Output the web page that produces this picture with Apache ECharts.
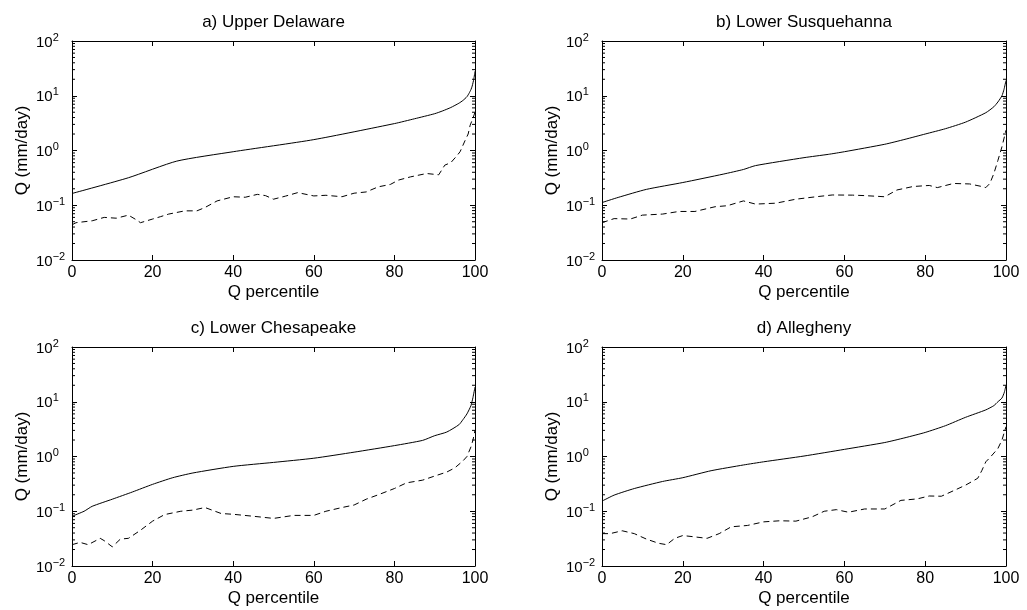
<!DOCTYPE html>
<html>
<head>
<meta charset="utf-8">
<script src="https://cdn.jsdelivr.net/npm/echarts@6/dist/echarts.min.js"></script>
<style>
  html, body { margin: 0; padding: 0; background: #fff; }
  #chart { width: 1027px; height: 610px; }
</style>
</head>
<body>
<div id="chart"></div>
<script>
const titles = ['a) Upper Delaware', 'b) Lower Susquehanna', 'c) Lower Chesapeake', 'd) Allegheny'];
const xTicks = [0, 20, 40, 60, 80, 100];
const yDecades = [0.01, 0.1, 1, 10, 100];

// a) Upper Delaware
const aSolidX = [0, 14, 26, 40, 60, 80, 85, 90, 92, 94, 96, 97, 98, 98.5, 99, 99.3, 99.7, 100];
const aSolidQ = [0.164, 0.318, 0.64, 0.95, 1.58, 3.1, 3.8, 4.7, 5.3, 6.1, 7.3, 8.2, 9.6, 11, 13, 15, 20, 28];
const aDashX = [0, 1, 5, 8, 11, 14, 16, 17, 20, 22, 24, 28, 31, 33, 36, 40, 43, 46, 48, 50, 53, 56, 60, 63, 67, 70, 73, 76, 79, 81, 84, 88, 91, 92.5, 94, 95.5, 96.3, 97.5, 98.3, 98.8, 99.5, 100];
const aDashQ = [0.044, 0.048, 0.052, 0.060, 0.058, 0.066, 0.054, 0.048, 0.056, 0.062, 0.069, 0.079, 0.079, 0.091, 0.12, 0.143, 0.14, 0.158, 0.15, 0.129, 0.147, 0.17, 0.148, 0.152, 0.143, 0.166, 0.175, 0.217, 0.24, 0.288, 0.33, 0.38, 0.36, 0.54, 0.60, 0.80, 0.95, 1.5, 2.0, 2.9, 3.9, 5.0];

// b) Lower Susquehanna
const bSolidX = [0, 4, 11, 20, 30, 35, 38, 50, 56, 60, 70, 75, 80, 85, 90, 95, 97, 98, 99, 99.5, 100];
const bSolidQ = [0.112, 0.139, 0.195, 0.26, 0.37, 0.45, 0.53, 0.74, 0.85, 0.95, 1.3, 1.6, 2.0, 2.5, 3.3, 4.9, 6.3, 7.7, 10, 13, 19];
const bDashX = [0, 3, 7, 10, 15, 19, 23, 28, 31, 35, 38, 43, 48, 53, 57, 62, 65, 70, 73, 77, 81, 83, 87, 91, 94, 95, 96, 97, 98, 99, 100];
const bDashQ = [0.048, 0.057, 0.056, 0.066, 0.069, 0.077, 0.077, 0.094, 0.098, 0.12, 0.105, 0.109, 0.129, 0.143, 0.154, 0.153, 0.150, 0.143, 0.19, 0.22, 0.23, 0.21, 0.25, 0.245, 0.22, 0.21, 0.25, 0.38, 0.66, 1.17, 2.35];

// c) Lower Chesapeake
const cSolidX = [0, 3, 5, 10, 15, 20, 25, 30, 40, 50, 60, 70, 80, 87, 90, 93, 96, 97, 98, 99, 99.5, 100];
const cSolidQ = [0.081, 0.1, 0.123, 0.166, 0.225, 0.31, 0.41, 0.50, 0.66, 0.78, 0.93, 1.2, 1.58, 1.97, 2.4, 2.8, 3.8, 4.7, 6.0, 8.5, 12, 18.6];
const cDashX = [0, 2, 4, 7, 8, 10, 12, 14, 17, 20, 23, 27, 30, 33, 37, 40, 45, 50, 55, 60, 63, 67, 70, 73, 76, 80, 83, 87, 90, 93, 95, 97, 98, 99, 99.5, 100];
const cDashQ = [0.0245, 0.027, 0.0245, 0.032, 0.029, 0.0224, 0.031, 0.032, 0.045, 0.066, 0.087, 0.100, 0.105, 0.117, 0.091, 0.088, 0.081, 0.074, 0.084, 0.084, 0.1, 0.117, 0.13, 0.166, 0.20, 0.26, 0.33, 0.37, 0.44, 0.52, 0.62, 0.83, 1.0, 1.5, 2.0, 3.0];

// d) Allegheny
const dSolidX = [0, 3, 8, 15, 20, 27, 35, 40, 50, 60, 70, 75, 80, 85, 90, 95, 97, 98, 99, 99.6, 100];
const dSolidQ = [0.153, 0.197, 0.26, 0.35, 0.41, 0.55, 0.70, 0.80, 1.02, 1.35, 1.8, 2.2, 2.75, 3.65, 5.2, 7.1, 8.5, 10, 11.7, 15, 20];
const dDashX = [0, 2, 5, 8, 11, 14, 16, 18, 20, 23, 26, 29, 32, 36, 40, 44, 48, 52, 55, 58, 61, 65, 70, 74, 78, 81, 84, 87, 90, 93, 94, 95, 96, 98, 99, 100];
const dDashQ = [0.039, 0.039, 0.044, 0.039, 0.031, 0.026, 0.0245, 0.032, 0.036, 0.034, 0.032, 0.039, 0.052, 0.055, 0.064, 0.067, 0.066, 0.079, 0.1, 0.107, 0.096, 0.11, 0.11, 0.158, 0.168, 0.19, 0.188, 0.237, 0.30, 0.40, 0.55, 0.80, 0.95, 1.4, 2.0, 3.5];

const panels = [
  {solidX: aSolidX, solidQ: aSolidQ, dashX: aDashX, dashQ: aDashQ},
  {solidX: bSolidX, solidQ: bSolidQ, dashX: bDashX, dashQ: bDashQ},
  {solidX: cSolidX, solidQ: cSolidQ, dashX: cDashX, dashQ: cDashQ},
  {solidX: dSolidX, solidQ: dSolidQ, dashX: dDashX, dashQ: dDashQ}
];

const rects = [
  {left: 72, top: 41, width: 403, height: 219},
  {left: 602, top: 41, width: 404, height: 219},
  {left: 72, top: 347, width: 403, height: 219},
  {left: 602, top: 347, width: 404, height: 219}
];

const FONT = "'Liberation Sans', Arial, Helvetica, sans-serif";
const black = '#000';

function zip(xs, ys) {
  return xs.map((x, i) => [x, ys[i]]);
}

// 10 with a raised exponent
function powLabel(v) {
  const e = Math.round(Math.log10(v));
  return '{b|10}{e|' + (e < 0 ? '\u2212' + (-e) : e) + '}';
}

let grid = [], xAxis = [], yAxis = [], series = [], title = [];

rects.forEach((r, i) => {
  grid.push({left: r.left, top: r.top, width: r.width, height: r.height, show: false});
  title.push({
    text: titles[i], left: r.left + r.width / 2, top: r.top - 27, textAlign: 'center', padding: 0,
    textStyle: {fontFamily: FONT, fontSize: 17, fontWeight: 'normal', color: black}
  });
  const lineSt = {show: true, onZero: false, lineStyle: {color: black, width: 1}};
  const tickSt = {show: true, inside: true, length: 5, lineStyle: {color: black, width: 1}};
  xAxis.push({
    type: 'value', gridIndex: i, min: xTicks[0], max: xTicks[xTicks.length - 1], interval: 20,
    position: 'bottom', name: 'Q percentile', nameLocation: 'middle', nameGap: 24,
    nameTextStyle: {fontFamily: FONT, fontSize: 17, color: black},
    axisLine: lineSt, axisTick: tickSt, splitLine: {show: false},
    axisLabel: {fontFamily: FONT, fontSize: 16, color: black, margin: 5}
  });
  xAxis.push({
    type: 'value', gridIndex: i, min: xTicks[0], max: xTicks[xTicks.length - 1], interval: 20,
    position: 'top', axisLine: lineSt, axisTick: tickSt, splitLine: {show: false},
    axisLabel: {show: false}
  });
  yAxis.push({
    type: 'log', logBase: 10, gridIndex: i, min: yDecades[0], max: yDecades[yDecades.length - 1],
    position: 'left', name: 'Q (mm/day)', nameLocation: 'middle', nameGap: 41,
    nameTextStyle: {fontFamily: FONT, fontSize: 17, color: black},
    axisLine: lineSt, axisTick: tickSt, splitLine: {show: false}, minorTick: {show: false},
    axisLabel: {
      margin: 36, align: 'left', padding: [3, 0, 0, 0], formatter: powLabel,
      rich: {
        b: {fontFamily: FONT, fontSize: 15, color: black, lineHeight: 21},
        e: {fontFamily: FONT, fontSize: 11, color: black, lineHeight: 4, verticalAlign: 'top'}
      }
    }
  });
  yAxis.push({
    type: 'log', logBase: 10, gridIndex: i, min: yDecades[0], max: yDecades[yDecades.length - 1],
    position: 'right', axisLine: lineSt, axisTick: tickSt, splitLine: {show: false},
    axisLabel: {show: false}
  });
  const p = panels[i];
  series.push({
    type: 'line', xAxisIndex: 2 * i, yAxisIndex: 2 * i, data: zip(p.solidX, p.solidQ),
    showSymbol: false, silent: true, smooth: 0.2, lineStyle: {color: black, width: 1}
  });
  series.push({
    type: 'line', xAxisIndex: 2 * i, yAxisIndex: 2 * i, data: zip(p.dashX, p.dashQ),
    showSymbol: false, silent: true, lineStyle: {color: black, width: 1, type: [6, 4]}
  });
});

const chart = echarts.init(document.getElementById('chart'), null, {renderer: 'canvas'});
chart.setOption({
  animation: false,
  backgroundColor: '#fff',
  textStyle: {fontFamily: FONT},
  title: title,
  grid: grid,
  xAxis: xAxis,
  yAxis: yAxis,
  series: series
});

// log minor ticks (2..9 per decade) on both y sides, inward
const minor = [];
rects.forEach((r, i) => {
  for (let d = 0; d < yDecades.length - 1; d++) {
    for (let m = 2; m < 10; m++) {
      const y = chart.convertToPixel({yAxisIndex: 2 * i}, m * yDecades[d]);
      minor.push({type: 'line', silent: true, shape: {x1: r.left, y1: y, x2: r.left + 3, y2: y}, style: {stroke: black, lineWidth: 1}});
      minor.push({type: 'line', silent: true, shape: {x1: r.left + r.width - 3, y1: y, x2: r.left + r.width, y2: y}, style: {stroke: black, lineWidth: 1}});
    }
  }
});
chart.setOption({graphic: minor});
</script>
</body>
</html>
